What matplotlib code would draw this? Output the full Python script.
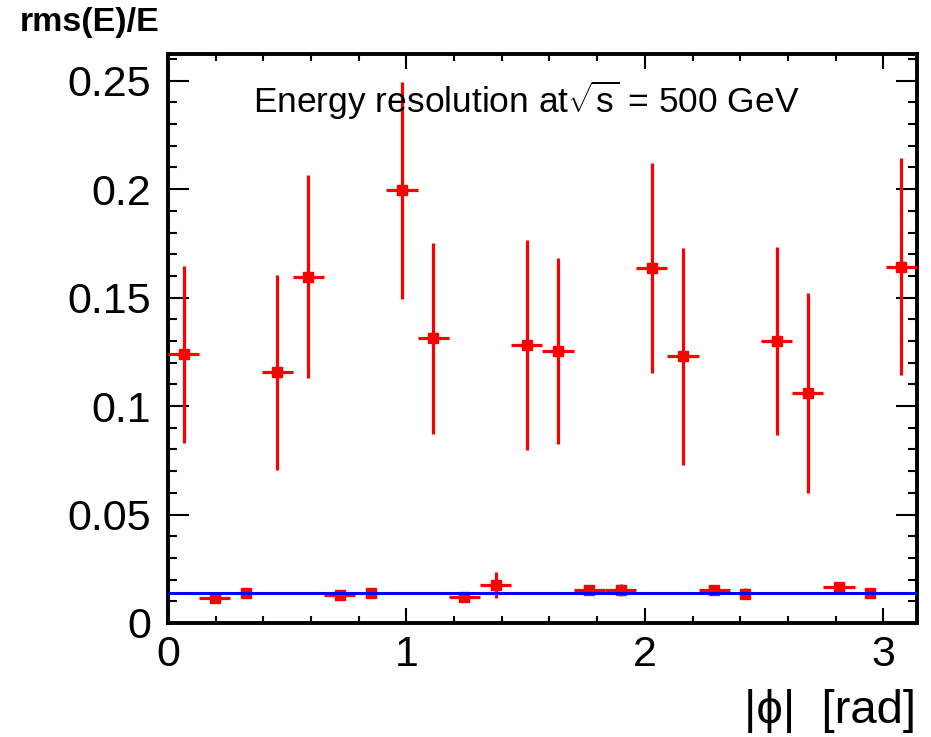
import numpy as np
import matplotlib.pyplot as plt
from matplotlib.ticker import MultipleLocator

plt.rcParams['font.family'] = ['Liberation Sans', 'DejaVu Sans']
plt.rcParams['mathtext.fontset'] = 'custom'
plt.rcParams['mathtext.rm'] = 'Liberation Sans'
plt.rcParams['mathtext.it'] = 'Liberation Sans'

# 24 bins in |phi| over [0, pi]
nbins = 24
bin_w = np.pi / nbins
phi = (np.arange(nbins) + 0.5) * bin_w

res = [0.1238, 0.0116, 0.0137, 0.1156, 0.1597, 0.0130, 0.0137, 0.1994,
       0.1313, 0.0122, 0.0176, 0.1282, 0.1253, 0.0153, 0.0153, 0.1637,
       0.1230, 0.0153, 0.0135, 0.1299, 0.1059, 0.0168, 0.0137, 0.1643]
res_err = [0.0410, 0.0008, 0.0008, 0.0450, 0.0466, 0.0008, 0.0008, 0.0500,
           0.0440, 0.0008, 0.0059, 0.0485, 0.0430, 0.0008, 0.0029, 0.0483,
           0.0500, 0.0008, 0.0025, 0.0434, 0.0462, 0.0020, 0.0008, 0.0500]
# bins with no horizontal bar in the original
no_xerr = [2, 6, 18, 22]
x_err = [0.0 if i in no_xerr else bin_w / 2 for i in range(nbins)]

fit_level = 0.01375

fig = plt.figure(figsize=(9.31, 7.37), dpi=100)
ax = fig.add_axes([0.1804, 0.1547, 0.985 - 0.1804, 0.9267 - 0.1547])

ax.errorbar(phi, res, xerr=x_err, yerr=res_err, fmt='s', color='#ff0000',
            markersize=7.5, elinewidth=2.3, capsize=0, zorder=3)
ax.hlines(fit_level, 0, np.pi, color='#0000ff', linewidth=2.2, zorder=4)

ax.set_xlim(0, np.pi)
ax.set_ylim(0, 0.2623)

ax.xaxis.set_major_locator(MultipleLocator(1))
ax.xaxis.set_minor_locator(MultipleLocator(0.2))
ax.yaxis.set_minor_locator(MultipleLocator(0.01))
ax.set_yticks([0, 0.05, 0.1, 0.15, 0.2, 0.25])
ax.set_yticklabels(['0', '0.05', '0.1', '0.15', '0.2', '0.25'])

ax.tick_params(which='both', direction='in', top=True, right=True, width=1.5,
               labelsize=31)
ax.tick_params(axis='y', which='major', length=15, pad=12)
ax.tick_params(axis='y', which='minor', length=6.5)
ax.tick_params(axis='x', which='major', length=11, pad=9)
ax.tick_params(axis='x', which='minor', length=5)
for s in ax.spines.values():
    s.set_linewidth(2.8)

ax.text(0.478, 0.957, r'Energy resolution at$\sqrt{s}$ = 500 GeV', transform=ax.transAxes,
        ha='center', va='top', fontsize=25.5)

fig.text(0.984, 0.006, '|ϕ|  [rad]', ha='right', va='bottom', fontsize=34)
fig.text(0.021, 0.99, 'rms(E)/E', ha='left', va='top', fontsize=24.5, fontweight='bold')

fig.savefig('out.png', dpi=100)
